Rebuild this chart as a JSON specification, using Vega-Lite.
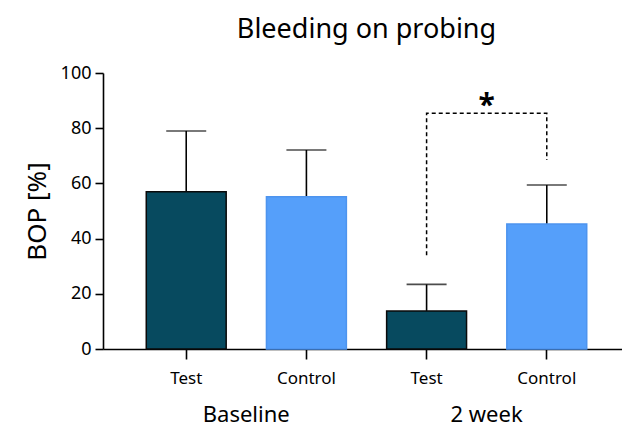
{
  "$schema": "https://vega.github.io/schema/vega-lite/v6.json",
  "autosize": "none",
  "width": 519,
  "height": 276,
  "padding": {"left": 103, "top": 73, "right": 0, "bottom": 81},
  "background": "white",
  "config": {"view": {"stroke": null}, "font": "Noto Sans"},
  "title": {"text": "Bleeding on probing", "fontSize": 27, "fontWeight": "normal", "color": "black", "offset": 20, "anchor": "middle", "dx": 4},
  "datasets": {
    "bars": [
      {"group": "Baseline", "treatment": "Test", "key": "Baseline Test", "mean": 57.0, "upper": 79.0},
      {"group": "Baseline", "treatment": "Control", "key": "Baseline Control", "mean": 55.2, "upper": 72.1},
      {"group": "2 week", "treatment": "Test", "key": "2 week Test", "mean": 13.8, "upper": 23.4},
      {"group": "2 week", "treatment": "Control", "key": "2 week Control", "mean": 45.3, "upper": 59.4}
    ],
    "bracket": [
      {"key": "2 week Test", "y": 34, "step": 1},
      {"key": "2 week Test", "y": 85.4, "step": 2},
      {"key": "2 week Control", "y": 85.4, "step": 3},
      {"key": "2 week Control", "y": 68.5, "step": 4}
    ],
    "groups": [
      {"key": "Baseline Test", "label": "Baseline"},
      {"key": "2 week Test", "label": "2 week"}
    ],
    "star": [{"key": "2 week Test", "y": 91, "label": "*"}]
  },
  "layer": [
    {
      "data": {"name": "bars"},
      "mark": {"type": "rule", "color": "black", "strokeWidth": 1.6},
      "encoding": {
        "x": {
          "field": "key", "type": "nominal",
          "sort": ["Baseline Test", "Baseline Control", "2 week Test", "2 week Control"],
          "scale": {"paddingInner": 0.335, "paddingOuter": 0.36, "range": [0, 527]},
          "axis": {
            "title": null, "labelAngle": 0, "labelFontSize": 17, "labelColor": "black",
            "labelExpr": "replace(replace(datum.value, 'Baseline ', ''), '2 week ', '')",
            "domainColor": "black", "domainWidth": 1.6, "tickColor": "black", "tickWidth": 1.6,
            "tickSize": 10, "labelPadding": 11
          }
        },
        "y": {
          "field": "mean", "type": "quantitative",
          "scale": {"domain": [0, 100], "nice": false},
          "axis": {
            "title": "BOP [%]", "titleFontSize": 26, "titleFontWeight": "normal", "titleColor": "black",
            "values": [0, 20, 40, 60, 80, 100], "grid": false, "labelFontSize": 18, "labelColor": "black",
            "domainColor": "black", "domainWidth": 1.6, "tickColor": "black", "tickWidth": 1.6,
            "tickSize": 8, "labelPadding": 4, "titlePadding": 10
          }
        },
        "y2": {"field": "upper"}
      }
    },
    {
      "data": {"name": "bars"},
      "mark": {"type": "tick", "color": "black", "thickness": 1.6, "size": 40},
      "encoding": {
        "x": {"field": "key", "type": "nominal", "sort": ["Baseline Test", "Baseline Control", "2 week Test", "2 week Control"]},
        "y": {"field": "upper", "type": "quantitative"}
      }
    },
    {
      "data": {"name": "bars"},
      "mark": {"type": "bar", "strokeWidth": 1.5},
      "encoding": {
        "x": {"field": "key", "type": "nominal", "sort": ["Baseline Test", "Baseline Control", "2 week Test", "2 week Control"]},
        "y": {"field": "mean", "type": "quantitative"},
        "color": {"field": "treatment", "type": "nominal", "scale": {"domain": ["Test", "Control"], "range": ["#074a5f", "#559ffa"]}, "legend": null},
        "stroke": {"field": "treatment", "type": "nominal", "scale": {"domain": ["Test", "Control"], "range": ["#0a0a0a", "#4d94ee"]}, "legend": null},
        "fillOpacity": {"value": 1}
      }
    },
    {
      "data": {"name": "bracket"},
      "mark": {"type": "line", "color": "black", "strokeWidth": 1.5, "strokeDash": [4, 3]},
      "encoding": {
        "x": {"field": "key", "type": "nominal", "sort": ["Baseline Test", "Baseline Control", "2 week Test", "2 week Control"]},
        "y": {"field": "y", "type": "quantitative"},
        "order": {"field": "step", "type": "quantitative"}
      }
    },
    {
      "data": {"name": "star"},
      "mark": {"type": "text", "fontSize": 30, "fontWeight": "bold", "dx": 60, "dy": 8, "color": "black"},
      "encoding": {
        "x": {"field": "key", "type": "nominal", "sort": ["Baseline Test", "Baseline Control", "2 week Test", "2 week Control"]},
        "y": {"field": "y", "type": "quantitative"},
        "text": {"field": "label"}
      }
    },
    {
      "data": {"name": "groups"},
      "mark": {"type": "text", "fontSize": 22, "dx": 60, "dy": 66, "baseline": "middle", "color": "black"},
      "encoding": {
        "x": {"field": "key", "type": "nominal", "sort": ["Baseline Test", "Baseline Control", "2 week Test", "2 week Control"]},
        "y": {"datum": 0, "type": "quantitative"},
        "text": {"field": "label"}
      }
    }
  ]
}
